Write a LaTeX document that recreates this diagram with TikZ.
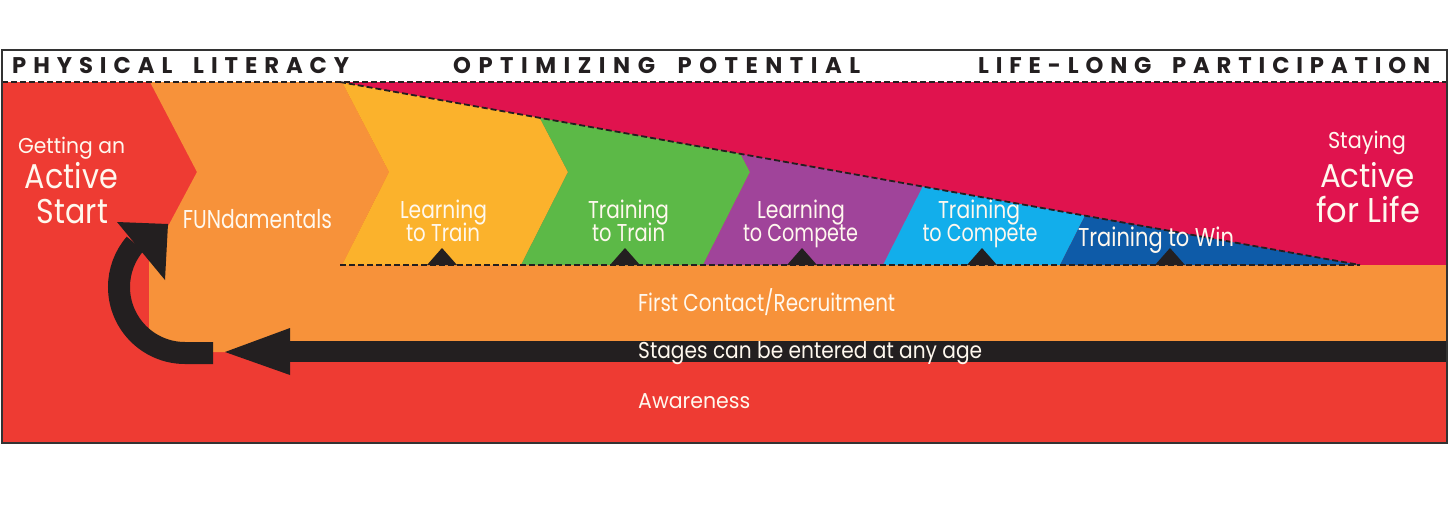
\documentclass[tikz,border=0pt]{standalone}
\usepackage{fontspec}
\setmainfont{Poppins}
\usepackage{graphicx}
\definecolor{cRed}{HTML}{EE3B33}
\definecolor{cOrange}{HTML}{F7923A}
\definecolor{cYellow}{HTML}{FBB22C}
\definecolor{cGreen}{HTML}{5CB947}
\definecolor{cPurple}{HTML}{A0449A}
\definecolor{cLBlue}{HTML}{12AEEB}
\definecolor{cDBlue}{HTML}{0E5BA8}
\definecolor{cMag}{HTML}{E0134E}
\definecolor{cBlack}{HTML}{231F20}
\definecolor{cText}{HTML}{FFF8EE}
\newcommand{\capsize}[1]{\fontsize{10pt}{12pt}\selectfont\edef\capht{\the\fontcharht\font`H}\pgfmathsetmacro\fsz{10*#1/\capht}\fontsize{\fsz pt}{\fsz pt}\selectfont}
\newcommand{\lab}[3]{{\capsize{#1}\resizebox{#2pt}{\height}{#3}}}
\newcommand{\hd}[2]{{\bfseries\capsize{16}\makebox[#1pt][s]{#2}}}
\newcommand{\wg}{\hskip 0pt plus 3fill\relax}
\tikzset{
  lbl/.style={text=cText, inner sep=0pt, anchor=base},
  lblw/.style={text=cText, inner sep=0pt, anchor=base west},
  hdr/.style={text=cBlack, inner sep=0pt, anchor=base west},
  dashln/.style={draw=cBlack, line width=1.8pt, dash pattern=on 6pt off 3pt},
}
\begin{document}
\begin{tikzpicture}[x=1pt,y=-1pt]
\fill[white] (0,0) rectangle (1453,517);
\useasboundingbox (0,0) rectangle (1453,517);
% base red
\fill[cRed] (2,82) rectangle (1447,443);
% magenta region above slant
\fill[cMag] (340,82) -- (1447,82) -- (1447,265) -- (1360,265) -- cycle;
% orange FUNdamentals chevron + first contact band
\fill[cOrange] (150,82) -- (342,82) -- (389,172) -- (342,265) -- (1447,265) -- (1447,352)
  -- (149,352) -- (149,262) -- (197,172) -- cycle;
% stages
\begin{scope}
\clip (340,82) -- (1360,265) -- (340,265) -- cycle;
\foreach \a/\b/\c in {342/521/cYellow, 521/703/cGreen, 703/883/cPurple, 883/1060/cLBlue, 1060/1500/cDBlue}
  \fill[\c] (\a,82) -- (\a+47,172) -- (\a,265) -- (\b,265) -- (\b+47,172) -- (\b,82) -- cycle;
\end{scope}
% dashed lines
\draw[dashln] (2,82) -- (1447,82);
\draw[dashln] (340,82) -- (1360,265);
\draw[dashln] (340,265) -- (1360,265);
% small triangles
\foreach \t in {442,625,802,982,1170}
  \fill[cBlack] (\t-15,265) -- (\t,248) -- (\t+15,265) -- cycle;
% main arrow
\fill[cBlack] (290,341) rectangle (1447,362);
\fill[cBlack] (225,352) -- (290,328) -- (290,375) -- cycle;
% curved arrow
\draw[cBlack, line width=22pt] (213,353) -- (185,353) arc[start angle=270, end angle=139, radius=66pt];
\fill[cBlack] (117,222) -- (168,224) -- (165,280) -- cycle;
% headers
\node[hdr] (h1) at (12,73) {\hd{337}{P\hfill H\hfill Y\hfill S\hfill I\hfill C\hfill A\hfill L\wg L\hfill I\hfill T\hfill E\hfill R\hfill A\hfill C\hfill Y}};
\node[hdr] (h2) at (453,73) {\hd{407}{O\hfill P\hfill T\hfill I\hfill M\hfill I\hfill Z\hfill I\hfill N\hfill G\wg P\hfill O\hfill T\hfill E\hfill N\hfill T\hfill I\hfill A\hfill L}};
\node[hdr] (h3) at (978,73) {\hd{452}{L\hfill I\hfill F\hfill E\hfill -\hfill L\hfill O\hfill N\hfill G\wg P\hfill A\hfill R\hfill T\hfill I\hfill C\hfill I\hfill P\hfill A\hfill T\hfill I\hfill O\hfill N}};
% labels
\node[lbl] (ga1) at (71.5,153) {\lab{15}{107}{Getting an}};
\node[lbl] (ga2) at (71.5,188) {\lab{24}{93}{Active}};
\node[lbl] (ga3) at (72.5,223) {\lab{24}{71}{Start}};
\node[lbl] (fun) at (257.5,228) {\lab{18}{149}{FUNdamentals}};
\node[lbl] (lt1) at (443.5,218) {\lab{17}{87}{Learning}};
\node[lbl] (lt2) at (443,241) {\lab{17}{74}{to Train}};
\node[lbl] (tt1) at (628.5,218) {\lab{17}{81}{Training}};
\node[lbl] (tt2) at (628.5,241) {\lab{17}{73}{to Train}};
\node[lbl] (lc1) at (801,218) {\lab{17}{88}{Learning}};
\node[lbl] (lc2) at (800.5,241) {\lab{17}{115}{to Compete}};
\node[lbl] (tc1) at (979,218) {\lab{17}{82}{Training}};
\node[lbl] (tc2) at (980,241) {\lab{17}{115}{to Compete}};
\node[lbl] (tw) at (1156,246) {\lab{18}{156}{Training to Win}};
\node[lbl] (al1) at (1367,148) {\lab{16}{78}{Staying}};
\node[lbl] (al2) at (1367.5,187) {\lab{23}{95}{Active}};
\node[lbl] (al3) at (1368,222) {\lab{24}{104}{for Life}};
\node[lblw] (fc) at (638,311) {\lab{17}{257}{First Contact/Recruitment}};
\node[lblw] (st) at (638,358) {\lab{16}{344}{Stages can be entered at any age}};
\node[lblw] (aw) at (638,408) {\lab{15}{112}{Awareness}};
% frame
\draw[line width=1.5pt, draw=black!80] (2,50) rectangle (1447,443);
\end{tikzpicture}
\end{document}
